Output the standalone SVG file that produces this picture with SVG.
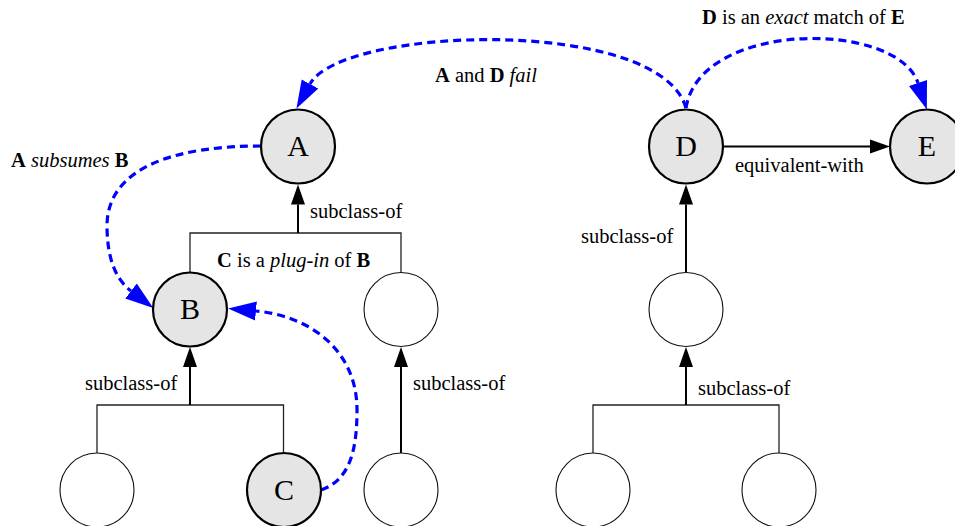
<svg xmlns="http://www.w3.org/2000/svg" width="955" height="526" viewBox="0 0 955 526">
  <style>
    .lbl { font-family: "Liberation Serif", "Times New Roman", serif; font-size: 20.5px; fill: #000; }
    .name { font-family: "Liberation Serif", "Times New Roman", serif; font-size: 30px; fill: #000; text-anchor: middle; }
    .key { fill: #e5e5e5; stroke: #000; stroke-width: 2.2; }
    .plain { fill: #fff; stroke: #111; stroke-width: 1.1; }
    .tree { fill: none; stroke: #222; stroke-width: 1.3; }
    .stem { fill: none; stroke: #000; stroke-width: 2; marker-end: url(#tri); }
    .match { fill: none; stroke: #0000ff; stroke-width: 3.2; stroke-dasharray: 8 5; marker-end: url(#blueTri); }
    .b { font-weight: bold; }
    .i { font-style: italic; }
  </style>
  <defs>
    <marker id="tri" markerUnits="userSpaceOnUse" markerWidth="22" markerHeight="16" viewBox="0 -8 22 16" refX="0" refY="0" orient="auto">
      <path d="M0,-7 L20,0 L0,7 z" fill="#000"/>
    </marker>
    <marker id="blueTri" markerUnits="userSpaceOnUse" markerWidth="30" markerHeight="22" viewBox="0 -11 30 22" refX="0" refY="0" orient="auto">
      <path d="M0,-9.5 L28,0 L0,9.5 z" fill="#0000ff"/>
    </marker>
  </defs>

  <!-- subclass and equivalence connectors -->
  <g id="connectors">
    <path class="tree" d="M190,272.5 V233 H401 V272.5"/>
    <path class="stem" d="M298,233 V204.5"/>
    <path class="tree" d="M97,453 V405 H283.5 V453"/>
    <path class="stem" d="M190,405 V367"/>
    <path class="stem" d="M401,453 V367"/>
    <path class="stem" d="M686,272.5 V204.5"/>
    <path class="tree" d="M593,453 V405 H779 V453"/>
    <path class="stem" d="M686,405 V367"/>
    <path class="stem" d="M723,146.5 H870"/>

    <!-- match relations -->
    <path class="match" d="M686,108 C660,16 342,26 310,84"/>
    <path class="match" d="M686,108 C700,20 897,20 918,83"/>
    <path class="match" d="M261,146 C180,146 108,165 107,225 C107,255 114,278 131,291"/>
    <path class="match" d="M321,490 C350,480 357,450 357,410 C357,350 310,316 256,311"/>
  </g>

  <!-- edge labels -->
  <g id="labels">
    <text class="lbl" x="11" y="167"><tspan class="b">A</tspan> <tspan class="i">subsumes</tspan> <tspan class="b">B</tspan></text>
    <text class="lbl" x="435" y="82"><tspan class="b">A</tspan> and <tspan class="b">D</tspan> <tspan class="i">fail</tspan></text>
    <text class="lbl" x="702" y="24"><tspan class="b">D</tspan> is an <tspan class="i">exact</tspan> match of <tspan class="b">E</tspan></text>
    <text class="lbl" x="735" y="172">equivalent-with</text>
    <text class="lbl" x="310" y="218">subclass-of</text>
    <text class="lbl" x="581" y="243">subclass-of</text>
    <text class="lbl" x="217" y="267"><tspan class="b">C</tspan> is a <tspan class="i">plug-in</tspan> of <tspan class="b">B</tspan></text>
    <text class="lbl" x="85" y="390">subclass-of</text>
    <text class="lbl" x="413" y="390">subclass-of</text>
    <text class="lbl" x="698" y="395">subclass-of</text>
  </g>

  <g id="node-A"><circle class="key" cx="298" cy="146.5" r="37"/><text class="name" x="298" y="156">A</text></g>
  <g id="node-B"><circle class="key" cx="190" cy="309.5" r="37"/><text class="name" x="190" y="319">B</text></g>
  <g id="node-C"><circle class="key" cx="284" cy="490" r="37"/><text class="name" x="284" y="499.5">C</text></g>
  <g id="node-D"><circle class="key" cx="686" cy="146.5" r="37"/><text class="name" x="686" y="156">D</text></g>
  <g id="node-E"><circle class="key" cx="927" cy="146.5" r="37"/><text class="name" x="927" y="156">E</text></g>
  <g id="node-b1"><circle class="plain" cx="97" cy="490" r="37"/></g>
  <g id="node-a1"><circle class="plain" cx="401" cy="309.5" r="37"/></g>
  <g id="node-a2"><circle class="plain" cx="401" cy="490" r="37"/></g>
  <g id="node-d1"><circle class="plain" cx="686" cy="309.5" r="37"/></g>
  <g id="node-d2"><circle class="plain" cx="593" cy="490" r="37"/></g>
  <g id="node-d3"><circle class="plain" cx="779" cy="490" r="37"/></g>
</svg>
